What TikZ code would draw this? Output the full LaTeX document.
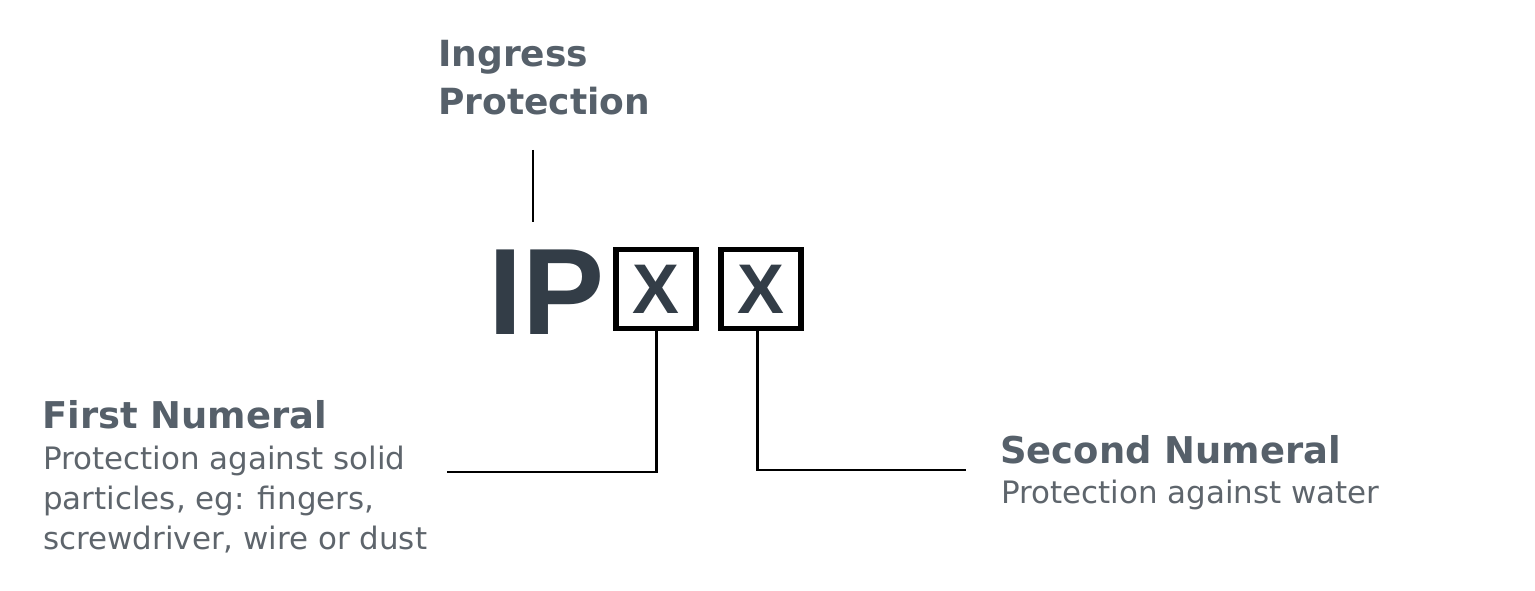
\documentclass[tikz,border=0pt]{standalone}
\usepackage{fontspec}
\setmainfont{Liberation Sans}
\newfontfamily\labelfont{DejaVu Sans}
\usetikzlibrary{positioning}
\definecolor{headgray}{HTML}{56606A}
\definecolor{ipdark}{HTML}{333D47}
\definecolor{bodygray}{HTML}{5E656C}

\begin{document}
\begin{tikzpicture}[
    x=0.02cm, y=-0.02cm,
    heading/.style={anchor=west,font=\labelfont\fontsize{21}{24}\selectfont\bfseries,text=headgray,inner sep=0pt},
    body/.style={anchor=north west,align=left,font=\labelfont\fontsize{17.6}{22.8}\selectfont,text=bodygray,inner sep=0pt},
    digitbox/.style={draw=black,line width=3pt,minimum width=1.6cm,minimum height=1.58cm,inner sep=0pt,
        font=\fontsize{40}{40}\selectfont\bfseries,text=ipdark},
    leader/.style={line width=1.7pt}
]
    \useasboundingbox (0,0) rectangle (1535,591);

    % title and code
    \node[heading,align=left,anchor=north west,font=\labelfont\fontsize{20.5}{27}\selectfont\bfseries] (ingress) at (438,40) {Ingress\\Protection};
    \node[anchor=west,inner sep=0pt,font=\fontsize{70}{70}\selectfont\bfseries,text=ipdark] (ip) at (488,292) {IP};
    \node[digitbox] (first) at (656,289) {X};
    \node[digitbox] (second) at (761,289) {X};

    % leader lines
    \coordinate (topline) at (533,150);
    \coordinate (botline) at (533,222);
    \coordinate (firstend) at (447,472);
    \coordinate (secondend) at (966,470);
    \draw[leader] (topline) -- (botline);
    \draw[leader] (first.south) |- (firstend);
    \draw[leader] ([xshift=-0.08cm]second.south) |- (secondend);

    % descriptions
    \node[heading] (firsthead) at (42,415) {First Numeral};
    \node[body] (firstbody) at (43,446) {Protection against solid\\particles, eg: fingers,\\screwdriver, wire or dust};
    \node[heading] (secondhead) at (1000,450) {Second Numeral};
    \node[body] (secondbody) at (1001,480) {Protection against water};
\end{tikzpicture}
\end{document}
